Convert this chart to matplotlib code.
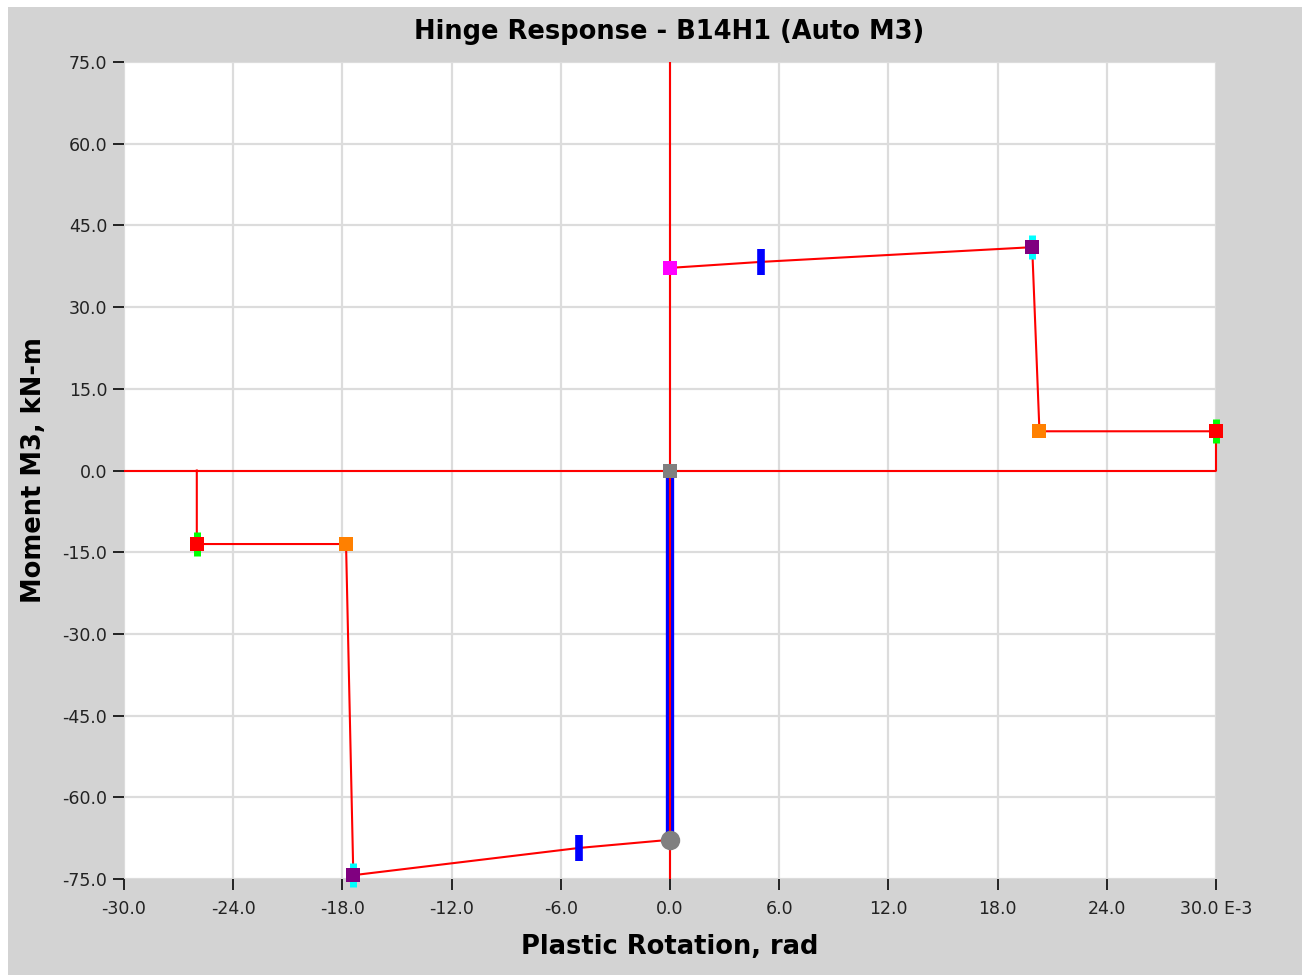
import matplotlib
matplotlib.use("Agg")
import matplotlib.pyplot as plt
from matplotlib.patches import Rectangle

# backbone curve (plastic rotation E-3 rad, moment kN-m)
bb_pos_x = [0.0, 5.0, 19.9, 20.3, 30.0, 30.0]
bb_pos_y = [37.2, 38.3, 41.0, 7.2, 7.2, 0.0]
bb_neg_x = [0.0, -5.0, -17.4, -17.8, -26.0, -26.0]
bb_neg_y = [-67.8, -69.3, -74.3, -13.5, -13.5, 0.0]

# hinge response path
resp_x = [0.0, 0.0]
resp_y = [0.0, -67.8]

# state points
yield_pos = (0.0, 37.2)
io_pts_x = [5.0, -5.0]
io_pts_y = [38.3, -69.3]
cp_x = [19.9, -17.4]
cp_y = [41.0, -74.3]
c_x = [20.3, -17.8]
c_y = [7.2, -13.5]
e_x = [30.0, -26.0]
e_y = [7.2, -13.5]

xticks = [-30, -24, -18, -12, -6, 0, 6, 12, 18, 24, 30]
xlabels = ["-30.0", "-24.0", "-18.0", "-12.0", "-6.0", "0.0", "6.0", "12.0", "18.0", "24.0", "30.0 E-3"]
yticks = [-75, -60, -45, -30, -15, 0, 15, 30, 45, 60, 75]

plt.rcParams['font.family'] = ['DejaVu Sans']

fig = plt.figure(figsize=(13.02, 9.75), dpi=100, facecolor='white')
fig.patches.append(Rectangle((8 / 1302, 0), 1, 1 - 7 / 975, transform=fig.transFigure,
                             facecolor='#d3d3d3', edgecolor='none', zorder=-10))
ax = fig.add_axes([124 / 1302, 1 - 879 / 975, 1092 / 1302, 817 / 975])
ax.set_facecolor('white')

ax.set_xlim(-30, 30)
ax.set_ylim(-75, 75)
ax.set_xticks(xticks)
ax.set_xticklabels(xlabels)
ax.set_yticks(yticks)
ax.set_yticklabels([f"{v:.1f}" for v in yticks])
ax.grid(True, color='#dcdcdc', linewidth=1.6)
ax.set_axisbelow(True)
for s in ax.spines.values():
    s.set_visible(False)
ax.tick_params(direction='out', length=8, width=1.4, color='#222222', labelsize=12.5,
               labelcolor='#222222', pad=4)
ax.tick_params(axis='x', pad=7)

# response (blue) under backbone
ax.plot(resp_x, resp_y, color='#0000ff', linewidth=6, solid_capstyle='butt', zorder=2)

# backbone lines
ax.plot([-30, 30], [0, 0], color='red', linewidth=1.5, zorder=3)
ax.plot([0, 0], [-75, 75], color='red', linewidth=1.5, zorder=3)
ax.plot(bb_pos_x, bb_pos_y, color='red', linewidth=1.5, zorder=3, clip_on=False)
ax.plot(bb_neg_x, bb_neg_y, color='red', linewidth=1.5, zorder=3)

# markers
ax.plot(io_pts_x, io_pts_y, linestyle='none', marker='|', ms=19, mew=5.5, color='#0000ff', zorder=5)
ax.plot(e_x, e_y, linestyle='none', marker='|', ms=17, mew=5, color='#00ff00', zorder=4, clip_on=False)
ax.plot(cp_x, cp_y, linestyle='none', marker='|', ms=17, mew=5, color='#00ffff', zorder=4, clip_on=False)
ax.plot(e_x, e_y, linestyle='none', marker='s', ms=10, mew=0, color='#ff0000', zorder=5, clip_on=False)
ax.plot(c_x, c_y, linestyle='none', marker='s', ms=10, mew=0, color='#ff8000', zorder=5)
ax.plot(cp_x, cp_y, linestyle='none', marker='s', ms=10, mew=0, color='#800080', zorder=5, clip_on=False)
ax.plot([yield_pos[0]], [yield_pos[1]], linestyle='none', marker='s', ms=10, mew=0, color='#ff00ff', zorder=5)
ax.plot([0], [0], linestyle='none', marker='s', ms=10, mew=0, color='#808080', zorder=5)
ax.plot([resp_x[-1]], [resp_y[-1]], linestyle='none', marker='o', ms=14, mew=0, color='#808080', zorder=6)

fig.text(0.514, 1 - 32 / 975, "Hinge Response - B14H1 (Auto M3)", ha='center', va='center',
         fontsize=18.5, fontweight='bold')
fig.text(0.514, 1 - 947 / 975, "Plastic Rotation, rad", ha='center', va='center',
         fontsize=18.5, fontweight='bold')
fig.text(34 / 1302, 1 - 470 / 975, "Moment M3, kN-m", ha='center', va='center', rotation=90,
         fontsize=18.5, fontweight='bold')

fig.savefig('out.png', dpi=100, facecolor=fig.get_facecolor())
